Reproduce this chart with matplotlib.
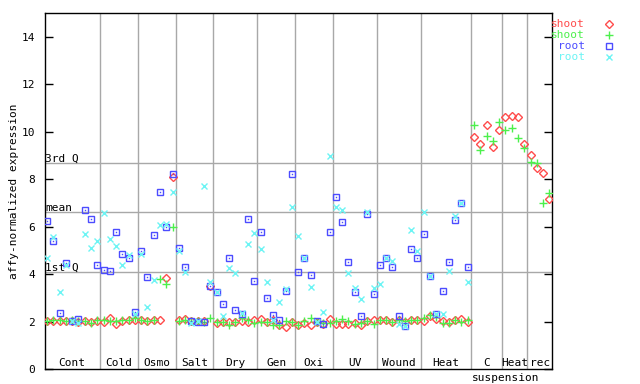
import numpy as np
import matplotlib
matplotlib.use("Agg")
import matplotlib.pyplot as plt
from matplotlib.lines import Line2D

# experiment groups along the x axis (number of samples in each)
groups = ["Cont", "Cold", "Osmo", "Salt", "Dry", "Gen", "Oxi", "UV", "Wound",
          "Heat", "C\nsuspension", "Heat", "rec"]
group_sizes = [9, 6, 6, 6, 7, 6, 6, 7, 7, 8, 5, 4, 4]

# shoot replicate 1 (red) and 2 (green)
shoot_1 = [2.05, 2.05, 2.05, 2.05, 2.05, 2.01, 2.05, 1.98, 2.05,
           2.01, 2.15, 1.92, 2.05, 2.08, 2.08,
           2.08, 2.04, 2.08, 2.08, 3.84, 8.10,
           2.08, 2.12, 2.05, 2.05, 2.05, 3.53,
           1.94, 2.01, 2.01, 2.01, 2.05, 2.01, 2.08,
           2.10, 2.01, 2.08, 1.86, 1.80, 2.01,
           1.86, 1.94, 1.86, 1.98, 1.90, 2.10,
           1.90, 1.90, 1.90, 1.94, 1.88, 2.04, 2.08,
           2.08, 2.08, 2.01, 2.08, 2.01, 2.08, 2.08,
           2.04, 2.25, 2.10, 2.04, 2.01, 2.08, 2.12, 2.01,
           9.78, 9.50, 10.29, 9.36, 10.08,
           10.63, 10.67, 10.63, 9.50,
           9.01, 8.50, 8.27, 7.18]
shoot_2 = [2.05, 2.08, 2.08, 2.05, 2.08, 2.05, 2.05, 1.94, 2.08,
           2.08, 2.05, 2.05, 2.08, 2.08, 2.15,
           2.08, 2.05, 2.08, 3.80, 3.58, 6.01,
           2.05, 2.08, 2.05, 2.05, 1.98, 2.15,
           1.98, 1.98, 1.85, 2.01, 2.15, 2.08, 1.94,
           2.01, 2.01, 1.86, 1.86, 2.05, 2.01,
           1.86, 2.04, 2.15, 1.98, 1.97, 1.97,
           2.04, 2.10, 2.04, 1.92, 1.94, 2.04, 1.92,
           2.08, 2.08, 2.01, 2.08, 2.05, 2.08, 2.08,
           2.15, 2.29, 2.19, 1.94, 1.97, 2.08, 2.01, 2.08,
           10.29, 9.26, 9.83, 9.62, 10.42,
           10.08, 10.16, 9.74, 9.32,
           8.73, 8.70, 7.00, 7.42]

# root replicate 1 (blue) and 2 (cyan); no root data for the last three groups
root_1 = [6.25, 5.40, 2.37, 4.47, 2.05, 2.12, 6.72, 6.34, 4.40,
          4.19, 4.13, 5.78, 4.86, 4.69, 2.40,
          4.99, 3.89, 5.65, 7.46, 5.99, 8.22,
          5.12, 4.30, 2.05, 1.98, 1.98, 3.51,
          3.26, 2.74, 4.68, 2.49, 2.32, 6.33, 3.71,
          5.78, 2.99, 2.28, 2.07, 3.30, 8.22,
          4.09, 4.68, 3.96, 2.02, 1.90, 5.78,
          7.25, 6.20, 4.51, 3.25, 2.24, 6.54, 3.16,
          4.39, 4.71, 4.30, 2.24, 1.84, 5.06, 4.68,
          5.69, 3.91, 2.35, 3.29, 4.51, 6.28, 6.99, 4.30]
root_2 = [4.68, 5.59, 3.25, 4.40, 2.05, 1.95, 5.69, 5.10, 5.40,
          6.58, 5.50, 5.20, 4.40, 4.82, 2.35,
          4.86, 2.61, 3.75, 6.07, 6.14, 7.46,
          4.99, 4.09, 1.95, 2.05, 7.72, 3.68,
          3.26, 2.24, 4.26, 4.05, 2.36, 5.27, 5.74,
          5.06, 3.67, 2.07, 2.83, 3.37, 6.83,
          5.61, 4.68, 3.46, 1.98, 2.40, 8.98,
          6.83, 6.71, 4.05, 3.42, 2.95, 6.62, 3.42,
          3.58, 4.71, 4.55, 1.91, 1.84, 5.86, 4.98,
          6.62, 3.91, 2.35, 2.32, 4.13, 6.45, 6.99, 3.67]

stat_labels = ["3rd Q", "mean", "1st Q"]
stat_values = [8.69, 6.62, 4.09]

n = sum(group_sizes)
x = np.arange(n)
pad = lambda v: np.r_[v, np.full(n - len(v), np.nan)]

plt.rcParams["font.family"] = "DejaVu Sans Mono"
plt.rcParams["font.size"] = 8

fig = plt.figure(figsize=(6.4, 3.84), dpi=100)
ax = fig.add_axes([0.0698, 0.0383, 0.7931, 0.9271])

grid_c = "#a8a8a8"
bounds = np.cumsum(group_sizes)[:-1] - 0.5
for b in bounds:
    ax.axvline(b, color=grid_c, lw=1, zorder=1)
for lab, v in zip(stat_labels, stat_values):
    ax.axhline(v, color=grid_c, lw=1, zorder=1)
    ax.text(-0.3, v + 0.07, lab, ha="left", va="baseline", zorder=2)

red, green, blue, cyan = "#ff4c4c", "#4cf04c", "#4c4cff", "#6cf4f4"
ax.plot(x, shoot_1, ls="none", marker="D", ms=3.6, mfc="none", mec=red, mew=1, zorder=3)
ax.plot(x, shoot_2, ls="none", marker="+", ms=5.5, mec=green, mew=1, zorder=3)
ax.plot(x, pad(root_1), ls="none", marker="s", ms=3.8, mfc="none", mec=blue, mew=1, zorder=3)
ax.plot(x, pad(root_1), ls="none", marker="s", ms=1, mfc=blue, mec=blue, mew=0, zorder=3)
ax.plot(x, pad(root_2), ls="none", marker="x", ms=4, mec=cyan, mew=1, zorder=3)

# group labels just above the bottom axis
start = 0
for name, size in zip(groups, group_sizes):
    lines = name.split("\n")
    ax.text(start + (size - 1) / 2, 0.13, lines[0], ha="center", va="baseline")
    if len(lines) > 1:
        ax.annotate(lines[1], xy=(start - 0.35, 0.13), xytext=(0, -11),
                    textcoords="offset points", ha="left", va="baseline",
                    annotation_clip=False)
    start += size

ax.set_xlim(-0.37, n - 0.54)
ax.set_ylim(0, 15)
ax.set_yticks(np.arange(0, 15, 2))
ax.set_xticks([])
ax.tick_params(axis="y", direction="in", length=6, pad=7, right=True, width=1)
for s in ax.spines.values():
    s.set_color("black")
    s.set_linewidth(1)
ax.set_ylabel("affy-normalized expression", fontsize=8, labelpad=2)

# legend: coloured names, markers to the right
leg = [("shoot", red, "D", 3.6, "none"), ("shoot", green, "+", 5.5, green),
       ("root", blue, "s", 3.8, "none"), ("root", cyan, "x", 4, cyan)]
for i, (lab, c, m, ms, fc) in enumerate(leg):
    yy = 1 - (24 + 11 * i) / 384
    fig.text(585 / 640, yy, lab, color=c, ha="right", va="center")
    fig.add_artist(Line2D([609 / 640], [yy], marker=m, ms=ms, mfc=fc, mec=c,
                          mew=1, ls="none", transform=fig.transFigure))

fig.savefig("out.png", dpi=100)
